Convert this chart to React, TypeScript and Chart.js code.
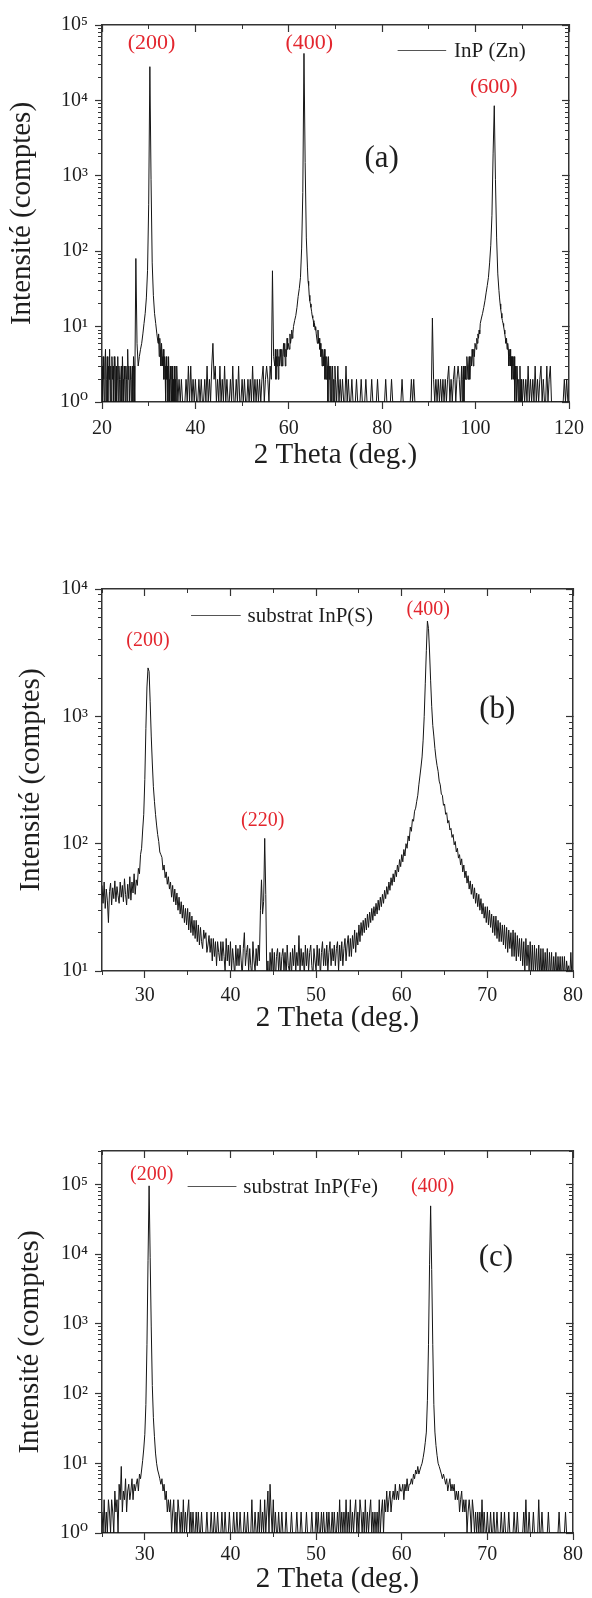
import React, { useEffect, useRef } from 'react';
import { Chart, registerables } from 'chart.js';

Chart.register(...registerables);

const SERIF = '"Liberation Serif", "Times New Roman", "DejaVu Serif", serif';
const RED = '#e3262e';
const INK = '#1e1e1e';
const FRAME = '#333333';
const PLOT_LEFT = 102;
const PLOT_RIGHT = 573;
const PAGE_W = 592;

// Each row holds the counts measured inside one degree, evenly spread over it
// (4 or 8 samples per degree).

// ---------------- (a) InP (Zn), rows start at 20° ----------------
const thetaStartA = 20;
const countsA: number[][] = [
  /*20*/ [3, 1, 4, 2, 1, 3, 5, 1], /*21*/ [2, 4, 1, 3, 2, 5, 1, 3], /*22*/ [1, 4, 2, 3, 1, 4, 3, 1],
  /*23*/ [3, 1, 2, 4, 1, 3, 2, 1], /*24*/ [2, 3, 1, 4, 2, 1, 3, 2], /*25*/ [1, 3, 2, 1, 5, 2, 3, 1],
  /*26*/ [2, 3, 1, 2, 3, 1, 4, 3], /*27*/ [1, 80, 6, 3], /*28*/ [4, 5, 6, 8], /*29*/ [11, 15, 24, 55],
  /*30*/ [420, 28000, 900, 70], /*31*/ [26, 15, 11, 8], /*32*/ [6, 8, 4, 7, 5, 3, 6, 4],
  /*33*/ [3, 5, 2, 4, 3, 1, 4, 2], /*34*/ [3, 1, 4, 2, 1, 3, 2, 1], /*35*/ [3, 1, 2, 1, 3, 1, 2, 1],
  /*36*/ [3, 1, 2, 1], /*37*/ [2, 1, 1, 1], /*38*/ [2, 1, 3, 1], /*39*/ [3, 1, 2, 1],
  /*40*/ [2, 1, 1, 2], /*41*/ [1, 2, 1, 1], /*42*/ [2, 1, 3, 1], /*43*/ [2, 1, 3, 6], /*44*/ [2, 3, 1, 2],
  /*45*/ [1, 3, 1, 2], /*46*/ [1, 3, 1, 2], /*47*/ [1, 1, 2, 1], /*48*/ [3, 1, 1, 2], /*49*/ [1, 3, 1, 1],
  /*50*/ [2, 1, 2, 1], /*51*/ [1, 2, 1, 2], /*52*/ [1, 3, 1, 2], /*53*/ [1, 2, 1, 2], /*54*/ [1, 2, 3, 1],
  /*55*/ [2, 3, 2, 1], /*56*/ [3, 2, 55, 4], /*57*/ [3, 5, 2, 4, 3, 5, 2, 4], /*58*/ [3, 5, 4, 3, 5, 3, 4, 6],
  /*59*/ [4, 6, 3, 5, 4, 7, 5, 6], /*60*/ [6, 5, 8, 6, 7, 9, 7, 8],
  /*61*/ [10, 12, 14, 18], /*62*/ [25, 32, 45, 110], /*63*/ [600, 42000, 1500, 150],
  /*64*/ [60, 40, 35, 26, 22, 20, 18, 16], /*65*/ [14, 13, 12, 10, 11, 9, 10, 8], /*66*/ [8, 6, 9, 6, 7, 5, 6, 4],
  /*67*/ [5, 3, 5, 4, 3, 5, 2, 4], /*68*/ [2, 4, 3, 1, 4, 2, 3, 1], /*69*/ [3, 1, 2, 3, 1, 2, 1, 3],
  /*70*/ [2, 1, 3, 1], /*71*/ [2, 1, 2, 1], /*72*/ [1, 3, 1, 2], /*73*/ [1, 1, 2, 1], /*74*/ [1, 1, 2, 1],
  /*75*/ [1, 1, 2, 1], /*76*/ [1, 1, 2, 1], /*77*/ [1, 1, 1, 2], /*78*/ [1, 1, 1, 1], /*79*/ [2, 1, 1, 1],
  /*80*/ [1, 1, 1, 2], /*81*/ [1, 1, 1, 1], /*82*/ [2, 1, 1, 1], /*83*/ [1, 1, 1, 1], /*84*/ [1, 2, 1, 1],
  /*85*/ [1, 1, 1, 1], /*86*/ [1, 2, 1, 2], /*87*/ [1, 1, 1, 1], /*88*/ [1, 1, 1, 1], /*89*/ [1, 1, 1, 1],
  /*90*/ [1, 1, 1, 13], /*91*/ [2, 1, 2, 1], /*92*/ [2, 1, 2, 1], /*93*/ [2, 1, 2, 1], /*94*/ [2, 3, 1, 2],
  /*95*/ [1, 2, 3, 1], /*96*/ [2, 3, 2, 1], /*97*/ [3, 1, 2, 3, 1, 2, 3, 2], /*98*/ [2, 4, 3, 2, 3, 4, 2, 3],
  /*99*/ [4, 3, 5, 4, 3, 5, 4, 6], /*100*/ [6, 5, 7, 6, 8, 7, 9, 8],
  /*101*/ [11, 13, 15, 18], /*102*/ [22, 28, 35, 45], /*103*/ [70, 120, 300, 2000], /*104*/ [8500, 900, 150, 50],
  /*105*/ [30, 24, 20, 17, 15, 13, 12, 11], /*106*/ [10, 9, 8, 7, 6, 7, 5, 6], /*107*/ [5, 3, 4, 5, 3, 4, 2, 4],
  /*108*/ [3, 2, 4, 1, 3, 2, 1, 3], /*109*/ [3, 1, 2, 1, 3, 1, 2, 1],
  /*110*/ [1, 2, 1, 2], /*111*/ [1, 3, 1, 2], /*112*/ [1, 2, 1, 3], /*113*/ [1, 2, 1, 2], /*114*/ [3, 1, 2, 1],
  /*115*/ [1, 3, 1, 2], /*116*/ [3, 1, 1, 1], /*117*/ [1, 1, 1, 1], /*118*/ [1, 1, 1, 1], /*119*/ [2, 1, 2, 1],
  /*120*/ [1],
];

// ---------------- (b) substrat InP(S), rows start at 25° ----------------
const thetaStartB = 25;
const countsB: number[][] = [
  /*25*/ [47, 34, 50, 31, 44, 36, 24, 42],
  /*26*/ [49, 33, 45, 37, 51, 35, 46, 39],
  /*27*/ [34, 50, 38, 47, 35, 53, 40, 33],
  /*28*/ [48, 37, 55, 36, 50, 41, 58, 40],
  /*29*/ [52, 47, 64, 58, 82, 92, 128, 170],
  /*30*/ [320, 800, 1700, 2400, 2250, 1300, 700, 430],
  /*31*/ [280, 215, 170, 140, 118, 104, 86, 82],
  /*32*/ [78, 62, 68, 54, 60, 48, 55, 44],
  /*33*/ [50, 38, 47, 35, 44, 33, 41, 30],
  /*34*/ [38, 28, 35, 26, 33, 24, 31, 23],
  /*35*/ [31, 21, 29, 20, 27, 19, 25, 18],
  /*36*/ [25, 17, 23, 16, 22, 17, 15, 21],
  /*37*/ [18, 20, 14, 16, 19, 14, 18, 12],
  /*38*/ [18, 13, 17, 11, 17, 14, 12, 17],
  /*39*/ [12, 17, 13, 10, 18, 12, 16, 11],
  /*40*/ [17, 10, 15, 12, 9, 16, 11, 15],
  /*41*/ [11, 16, 12, 9, 15, 20, 11, 14],
  /*42*/ [16, 10, 15, 11, 9, 17, 12, 10],
  /*43*/ [15, 11, 16, 12, 30, 52, 28, 35],
  /*44*/ [110, 40, 8, 12, 7, 14, 10, 15],
  /*45*/ [9, 14, 8, 13, 15, 10, 14, 9],
  /*46*/ [13, 15, 10, 14, 9, 16, 11, 10],
  /*47*/ [14, 9, 15, 11, 16, 10, 14, 11],
  /*48*/ [19, 10, 15, 11, 14, 9, 16, 11],
  /*49*/ [15, 10, 14, 16, 11, 9, 15, 12],
  /*50*/ [10, 16, 11, 15, 9, 14, 17, 11],
  /*51*/ [15, 11, 16, 10, 14, 17, 11, 15],
  /*52*/ [12, 16, 11, 15, 17, 10, 16, 12],
  /*53*/ [17, 11, 15, 18, 12, 16, 19, 13],
  /*54*/ [18, 13, 19, 15, 21, 14, 20, 16],
  /*55*/ [23, 17, 24, 19, 25, 20, 26, 21],
  /*56*/ [28, 22, 29, 24, 31, 25, 32, 27],
  /*57*/ [34, 28, 36, 30, 38, 32, 40, 34],
  /*58*/ [43, 37, 46, 40, 50, 43, 54, 47],
  /*59*/ [58, 50, 62, 55, 68, 60, 75, 66],
  /*60*/ [82, 72, 90, 80, 100, 92, 115, 105],
  /*61*/ [135, 125, 155, 150, 180, 190, 215, 240],
  /*62*/ [290, 340, 400, 480, 650, 1000, 1800, 3300],
  /*63*/ [5600, 4900, 3200, 1900, 1200, 850, 700, 560],
  /*64*/ [470, 410, 370, 310, 290, 245, 240, 200],
  /*65*/ [205, 170, 175, 145, 152, 128, 132, 112],
  /*66*/ [118, 98, 104, 86, 92, 77, 82, 68],
  /*67*/ [76, 60, 68, 54, 61, 49, 56, 44],
  /*68*/ [51, 40, 48, 37, 45, 34, 41, 32],
  /*69*/ [40, 30, 37, 28, 34, 26, 32, 24],
  /*70*/ [32, 23, 30, 22, 28, 20, 27, 19],
  /*71*/ [27, 18, 25, 17, 24, 17, 23, 16],
  /*72*/ [23, 15, 22, 14, 21, 15, 20, 13],
  /*73*/ [21, 13, 20, 12, 19, 13, 18, 12],
  /*74*/ [18, 11, 17, 10, 18, 11, 16, 10],
  /*75*/ [17, 10, 16, 9, 16, 10, 15, 9],
  /*76*/ [16, 9, 15, 8, 15, 9, 14, 9],
  /*77*/ [15, 8, 14, 9, 14, 8, 13, 9],
  /*78*/ [14, 8, 13, 9, 13, 8, 13, 9],
  /*79*/ [13, 8, 12, 10, 11, 9, 14, 9],
  /*80*/ [10],
];

// ---------------- (c) substrat InP(Fe), rows start at 25° ----------------
const thetaStartC = 25;
const countsC: number[][] = [
  /*25*/ [2, 1, 3, 1, 2, 1, 3, 2],
  /*26*/ [1, 3, 2, 1, 4, 2, 3, 1],
  /*27*/ [5, 3, 9, 2, 4, 3, 6, 2],
  /*28*/ [4, 5, 3, 4, 6, 3, 5, 4],
  /*29*/ [5, 6, 4, 7, 6, 8, 11, 16],
  /*30*/ [26, 70, 500, 8000, 95000, 9000, 900, 130],
  /*31*/ [45, 24, 14, 10, 8, 7, 6, 5],
  /*32*/ [6, 4, 5, 3, 4, 2, 3, 2],
  /*33*/ [3, 1, 2, 3, 1, 2, 1, 3],
  /*34*/ [2, 1, 2, 1, 3, 1, 2, 1],
  /*35*/ [2, 3, 1, 2, 1, 2, 1, 1],
  /*36*/ [2, 1, 2, 1, 1, 2, 1, 1],
  /*37*/ [1, 1, 2, 1, 1, 1, 2, 1],
  /*38*/ [1, 2, 1, 1, 2, 1, 1, 1],
  /*39*/ [2, 1, 1, 2, 1, 1, 1, 2],
  /*40*/ [1, 1, 1, 2, 1, 1, 2, 1],
  /*41*/ [1, 2, 1, 1, 1, 2, 1, 1],
  /*42*/ [2, 1, 1, 1, 3, 1, 1, 2],
  /*43*/ [1, 1, 2, 1, 3, 1, 2, 1],
  /*44*/ [3, 1, 2, 4, 1, 5, 2, 1],
  /*45*/ [3, 1, 2, 1, 1, 2, 1, 1],
  /*46*/ [2, 1, 1, 1, 2, 1, 1, 1],
  /*47*/ [1, 2, 1, 1, 1, 1, 2, 1],
  /*48*/ [1, 1, 2, 1, 1, 1, 1, 2],
  /*49*/ [1, 1, 1, 1, 2, 1, 1, 1],
  /*50*/ [2, 1, 2, 1, 1, 2, 1, 2],
  /*51*/ [1, 1, 2, 1, 2, 1, 1, 2],
  /*52*/ [1, 2, 1, 1, 2, 1, 3, 1],
  /*53*/ [2, 1, 2, 1, 3, 1, 2, 1],
  /*54*/ [3, 1, 2, 1, 2, 3, 1, 2],
  /*55*/ [1, 3, 2, 1, 2, 1, 3, 1],
  /*56*/ [2, 1, 2, 3, 1, 2, 1, 2],
  /*57*/ [1, 2, 1, 3, 1, 2, 3, 1],
  /*58*/ [3, 2, 4, 2, 3, 4, 2, 3],
  /*59*/ [4, 3, 5, 3, 4, 3, 5, 4],
  /*60*/ [4, 5, 3, 5, 4, 6, 4, 5],
  /*61*/ [5, 6, 5, 7, 6, 8, 7, 9],
  /*62*/ [7, 8, 9, 10, 12, 15, 20, 28],
  /*63*/ [80, 500, 7000, 49000, 6000, 500, 70, 28],
  /*64*/ [18, 13, 10, 9, 8, 7, 6, 7],
  /*65*/ [6, 5, 6, 4, 5, 6, 4, 5],
  /*66*/ [4, 5, 3, 4, 3, 4, 2, 3],
  /*67*/ [4, 2, 3, 2, 3, 1, 2, 3],
  /*68*/ [2, 1, 3, 2, 1, 2, 1, 2],
  /*69*/ [1, 2, 1, 3, 1, 2, 1, 1],
  /*70*/ [2, 1, 1, 2, 1, 1, 2, 1],
  /*71*/ [1, 2, 1, 1, 1, 2, 1, 1],
  /*72*/ [2, 1, 1, 1, 2, 1, 1, 1],
  /*73*/ [1, 2, 1, 1, 2, 1, 1, 1],
  /*74*/ [1, 1, 2, 1, 3, 1, 1, 2],
  /*75*/ [1, 1, 1, 2, 1, 1, 1, 1],
  /*76*/ [3, 1, 1, 2, 1, 1, 1, 1],
  /*77*/ [1, 2, 1, 1, 1, 1, 1, 1],
  /*78*/ [1, 1, 1, 2, 1, 1, 1, 1],
  /*79*/ [1, 2, 1, 1, 1, 1, 1, 1],
  /*80*/ [1],
];

// ---------------- text annotations (anchored in data coordinates) ----------------
const peaksA = [
  { text: '(200)', x: 30.6, y: 58000 },
  { text: '(400)', x: 64.4, y: 58000 },
  { text: '(600)', x: 103.9, y: 15000 },
];
const peaksB = [
  { text: '(200)', x: 30.36, y: 3900 },
  { text: '(220)', x: 43.76, y: 150 },
  { text: '(400)', x: 63.1, y: 6900 },
];
const peaksC = [
  { text: '(200)', x: 30.8, y: 135000 },
  { text: '(400)', x: 63.6, y: 91000 },
];
const legendA = { text: 'InP (Zn)', x0: 83.3, x1: 93.7, tx: 95.4, y: 46000 };
const legendB = { text: 'substrat InP(S)', x0: 35.4, x1: 41.2, tx: 42.0, y: 6300 };
const legendC = { text: 'substrat InP(Fe)', x0: 35.0, x1: 40.7, tx: 41.5, y: 94000 };
const tagA = { text: '(a)', x: 79.9, y: 1700 };
const tagB = { text: '(b)', x: 71.15, y: 1120 };
const tagC = { text: '(c)', x: 71.0, y: 8900 };

const X_TITLE = '2 Theta (deg.)';
const Y_TITLE = 'Intensité (comptes)';

type Note = { text: string; x: number; y: number };
type Legend = { text: string; x0: number; x1: number; tx: number; y: number };
type Panel = {
  rows: number[][]; start: number;
  xMin: number; xMax: number; xStep: number; xLabelStep: number;
  yMin: number; yMax: number;
  peaks: Note[]; legend: Legend; tag: Note;
  top: number; height: number; plotTop: number; plotBottom: number;
  xAxisH: number; xTickPad: number; yTitlePad: number; peakFont: number;
};

const panels: Panel[] = [
  {
    rows: countsA, start: thetaStartA,
    xMin: 20, xMax: 120, xStep: 10, xLabelStep: 20, yMin: 1, yMax: 1e5,
    peaks: peaksA, legend: legendA, tag: tagA,
    top: 0, height: 480, plotTop: 25, plotBottom: 402, xAxisH: 71, xTickPad: 8, yTitlePad: 5, peakFont: 22,
  },
  {
    rows: countsB, start: thetaStartB,
    xMin: 25, xMax: 80, xStep: 5, xLabelStep: 10, yMin: 10, yMax: 1e4,
    peaks: peaksB, legend: legendB, tag: tagB,
    top: 540, height: 500, plotTop: 589, plotBottom: 971, xAxisH: 65, xTickPad: 6, yTitlePad: 14, peakFont: 20,
  },
  {
    rows: countsC, start: thetaStartC,
    xMin: 25, xMax: 80, xStep: 5, xLabelStep: 10, yMin: 1, yMax: 3e5,
    peaks: peaksC, legend: legendC, tag: tagC,
    top: 1100, height: 498, plotTop: 1151, plotBottom: 1533, xAxisH: 64, xTickPad: 3, yTitlePad: 13, peakFont: 20,
  },
];

const SUP = ['\u2070', '\u00B9', '\u00B2', '\u00B3', '\u2074', '\u2075', '\u2076'];

function isPow10(v: number) {
  const l = Math.log10(v);
  return Math.abs(l - Math.round(l)) < 1e-9;
}

function logTickValues(min: number, max: number) {
  const out: number[] = [];
  for (let d = min; d <= max; d *= 10) {
    for (let k = 1; k < 10; k++) {
      const v = d * k;
      if (v <= max * 1.0001) out.push(v);
    }
  }
  return out;
}

function toPoints(rows: number[][], start: number) {
  const pts: { x: number; y: number }[] = [];
  rows.forEach((row, r) => row.forEach((c, j) => pts.push({ x: start + r + j / row.length, y: c })));
  return pts;
}

function annotationPlugin(p: Panel) {
  return {
    id: 'xrdNotes',
    afterDraw(chart: any) {
      const { ctx } = chart;
      const xs = chart.scales.x;
      const ys = chart.scales.y;
      ctx.save();
      ctx.textBaseline = 'middle';
      ctx.textAlign = 'center';
      ctx.fillStyle = RED;
      ctx.font = `${p.peakFont}px ${SERIF}`;
      p.peaks.forEach((a) => ctx.fillText(a.text, xs.getPixelForValue(a.x), ys.getPixelForValue(a.y)));

      const ly = Math.round(ys.getPixelForValue(p.legend.y)) + 0.5;
      ctx.strokeStyle = '#555';
      ctx.lineWidth = 1;
      ctx.beginPath();
      ctx.moveTo(xs.getPixelForValue(p.legend.x0), ly);
      ctx.lineTo(xs.getPixelForValue(p.legend.x1), ly);
      ctx.stroke();
      ctx.fillStyle = INK;
      ctx.textAlign = 'left';
      ctx.font = `21px ${SERIF}`;
      ctx.fillText(p.legend.text, xs.getPixelForValue(p.legend.tx), ly + 1);

      ctx.textAlign = 'center';
      ctx.font = `31px ${SERIF}`;
      ctx.fillText(p.tag.text, xs.getPixelForValue(p.tag.x), ys.getPixelForValue(p.tag.y));
      ctx.restore();
    },
  };
}

function buildConfig(p: Panel): any {
  const isMajorX = (v: number) => Math.abs(v / p.xLabelStep - Math.round(v / p.xLabelStep)) < 1e-6;
  const logTicks = logTickValues(p.yMin, p.yMax);
  const setLogTicks = (s: any) => { s.ticks = logTicks.map((v) => ({ value: v })); };
  const majorXColor = (c: any) => (c.tick && isMajorX(c.tick.value) ? FRAME : 'rgba(0,0,0,0)');
  const majorYColor = (c: any) => (c.tick && isPow10(c.tick.value) ? FRAME : 'rgba(0,0,0,0)');
  const zeroH = (s: any) => { s.height = 0; };
  const zeroW = (s: any) => { s.width = 0; };

  const linX = (position: string, weight: number) => ({
    type: 'linear', position, weight, min: p.xMin, max: p.xMax,
    ticks: { stepSize: p.xStep, autoSkip: false, display: false, maxRotation: 0 },
  });
  const logY = (position: string, weight: number) => ({
    type: 'logarithmic', position, weight, min: p.yMin, max: p.yMax,
    afterBuildTicks: setLogTicks,
    ticks: { autoSkip: false, display: false },
  });

  return {
    type: 'line',
    data: {
      datasets: [
        {
          data: toPoints(p.rows, p.start),
          borderColor: '#151515',
          borderWidth: 1,
          pointRadius: 0,
          tension: 0,
          fill: false,
        },
      ],
    },
    options: {
      responsive: false,
      animation: false,
      devicePixelRatio: 1,
      events: [],
      layout: {
        autoPadding: false,
        padding: {
          left: 0,
          right: PAGE_W - PLOT_RIGHT,
          top: p.plotTop - p.top,
          bottom: p.height - (p.plotBottom - p.top) - p.xAxisH,
        },
      },
      plugins: { legend: { display: false }, tooltip: { enabled: false }, title: { display: false } },
      scales: {
        x: {
          type: 'linear', position: 'bottom', weight: 1, min: p.xMin, max: p.xMax,
          ticks: {
            stepSize: p.xStep, autoSkip: false, maxRotation: 0, minRotation: 0,
            padding: p.xTickPad, color: INK, font: { family: SERIF, size: 20 },
            callback: (v: number) => (isMajorX(v) ? String(v) : ''),
          },
          grid: { drawOnChartArea: false, drawTicks: true, tickLength: 7, tickWidth: 1.2, tickColor: majorXColor },
          border: { display: true, color: FRAME, width: 1.5 },
          title: { display: true, text: X_TITLE, color: INK, font: { family: SERIF, size: 29 }, padding: { top: 0, bottom: 0 } },
          afterFit: (s: any) => { s.height = p.xAxisH; },
        },
        xMinor: {
          ...linX('bottom', 0),
          grid: { drawOnChartArea: false, drawTicks: true, tickLength: 4, tickWidth: 1, tickColor: FRAME },
          border: { display: false },
          afterFit: zeroH,
        },
        xTop: {
          ...linX('top', 1),
          grid: { drawOnChartArea: false, drawTicks: true, tickLength: -7, tickWidth: 1.2, tickColor: majorXColor },
          border: { display: true, color: FRAME, width: 1.5 },
          afterFit: zeroH,
        },
        xTopMinor: {
          ...linX('top', 0),
          grid: { drawOnChartArea: false, drawTicks: true, tickLength: -4, tickWidth: 1, tickColor: FRAME },
          border: { display: false },
          afterFit: zeroH,
        },
        y: {
          type: 'logarithmic', position: 'left', weight: 1, min: p.yMin, max: p.yMax,
          afterBuildTicks: setLogTicks,
          ticks: {
            autoSkip: false, padding: 7, color: INK, font: { family: SERIF, size: 20 },
            callback: (v: number) => (isPow10(v) ? '10' + SUP[Math.round(Math.log10(v))] : ''),
          },
          grid: { drawOnChartArea: false, drawTicks: true, tickLength: 7, tickWidth: 1.2, tickColor: majorYColor },
          border: { display: true, color: FRAME, width: 1.5 },
          title: { display: true, text: Y_TITLE, color: INK, font: { family: SERIF, size: 29 }, padding: { top: p.yTitlePad, bottom: 0 } },
          afterFit: (s: any) => { s.width = PLOT_LEFT; },
        },
        yMinor: {
          ...logY('left', 0),
          grid: { drawOnChartArea: false, drawTicks: true, tickLength: 4, tickWidth: 1, tickColor: FRAME },
          border: { display: false },
          afterFit: zeroW,
        },
        yRight: {
          ...logY('right', 0),
          grid: { drawOnChartArea: false, drawTicks: true, tickLength: -7, tickWidth: 1.2, tickColor: majorYColor },
          border: { display: true, color: FRAME, width: 1.5 },
          afterFit: zeroW,
        },
        yRightMinor: {
          ...logY('right', 1),
          grid: { drawOnChartArea: false, drawTicks: true, tickLength: -4, tickWidth: 1, tickColor: FRAME },
          border: { display: false },
          afterFit: zeroW,
        },
      },
    },
    plugins: [annotationPlugin(p)],
  };
}

function XrdPanel({ panel }: { panel: Panel }) {
  const ref = useRef<HTMLCanvasElement>(null);
  useEffect(() => {
    if (!ref.current) return;
    const chart = new Chart(ref.current, buildConfig(panel));
    return () => chart.destroy();
  }, [panel]);
  return (
    <canvas
      ref={ref}
      width={PAGE_W}
      height={panel.height}
      style={{ position: 'absolute', left: 0, top: panel.top, width: PAGE_W, height: panel.height, display: 'block' }}
    />
  );
}

export default function App() {
  return (
    <div
      style={{
        position: 'absolute', left: 0, top: 0, width: PAGE_W, height: 1598,
        background: '#ffffff', overflow: 'hidden',
      }}
    >
      {panels.map((p, i) => (
        <XrdPanel key={i} panel={p} />
      ))}
    </div>
  );
}
